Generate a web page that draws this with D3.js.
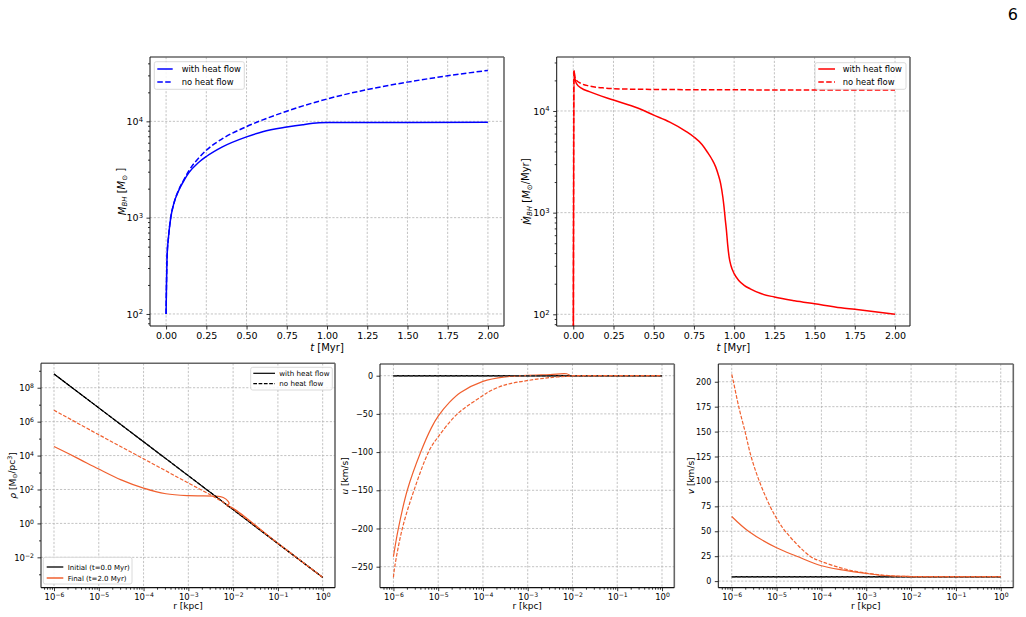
<!DOCTYPE html>
<html><head><meta charset="utf-8">
<script src="https://cdn.jsdelivr.net/npm/d3@7"></script>
<style>body{margin:0;background:#fff}svg{display:block}text{font-family:"DejaVu Sans",sans-serif}</style>
</head><body><svg id="c" width="1026" height="617"></svg>
<script>
// ---------------- DATA ----------------
// Black hole mass vs time [Myr]
const massT_heat   = [0,0.002,0.006,0.015,0.029,0.048,0.075,0.116,0.143,0.2,0.25,0.35,0.5,0.6,0.75,0.85,0.95,1.0,1.5,2.0];
const mass_heat    = [100,180,390,630,1000,1400,1862,2512,2951,3715,4315,5433,6900,7800,8710,9230,9640,9720,9750,9760];
const massT_noheat = [0,0.002,0.006,0.015,0.029,0.048,0.075,0.116,0.143,0.2,0.25,0.35,0.5,0.75,1.0,1.25,1.5,1.75,2.0];
const mass_noheat  = [100,180,390,630,1000,1400,1884,2570,3090,4120,5010,6610,8810,12740,17060,21380,25530,29720,33800];
// Accretion rate [Msun/Myr] vs time
const rateT_heat = [0,0.004,0.01,0.02,0.05,0.1,0.25,0.4,0.5,0.6,0.7,0.75,0.8,0.833,0.86,0.885,0.9,0.916,0.93,0.937,0.945,0.952,0.96,0.969,0.98,1.0,1.03,1.062,1.1,1.166,1.25,1.375,1.5,1.664,1.75,1.875,2.0];
const rate_heat  = [10,25000,20900,18600,16800,15500,12800,10700,9100,7760,6310,5550,4680,3950,3390,2820,2400,1930,1410,1140,850,670,480,363,302,251,214,193,178,160,148,136,127,116,112,106,100];
const rateT_noheat = [0,0.004,0.01,0.02,0.05,0.1,0.2,0.35,0.5,1.0,1.5,2.0];
const rate_noheat  = [10,25000,21500,20000,18600,17600,16800,16400,16300,16150,16100,16100];
// Density profiles rho [Msun/pc^3] vs r [kpc]
const rhoR_init  = [1e-6,1e-4,1e-2,1];
const rho_init   = [6.5e8,6.5e4,6.5,6.6e-4];
const rhoR_heat  = [1e-6,3.16e-6,1e-5,3.16e-5,1e-4,3.16e-4,1e-3,3.63e-3,6.03e-3,7.76e-3,8.13e-3,7.24e-3,1e-2,0.1,1];
const rho_heat   = [3.4e4,7.6e3,1.6e3,370,120,56,43,41,34,20,14.5,11,7.9,0.065,6.6e-4];
const rhoR_noheat = [1e-6,1e-5,1e-4,1e-3,3.16e-3,6.31e-3,1e-2,0.1,1];
const rho_noheat  = [4.7e6,1.7e5,6.5e3,240,47,16.6,7.2,0.068,6.6e-4];
// Radial velocity u [km/s]
const uR_init = [1e-6,1];
const u_init  = [0,0];
const uR_heat = [1e-6,1.29e-6,2.04e-6,4.07e-6,7.08e-6,1e-5,1.78e-5,3.16e-5,1e-4,3.16e-4,1e-3,3.16e-3,7.41e-3,8.91e-3,1e-2,0.1,1];
const u_heat  = [-237,-200,-150,-100,-68,-53,-35,-22,-7.4,-1.5,0.5,1.5,2.5,0.3,0,0,0];
const uR_noheat = [1e-6,1.07e-6,1.58e-6,2.88e-6,6.31e-6,1e-5,2.69e-5,1e-4,1.45e-4,3.16e-4,9.55e-4,3.16e-3,8.91e-3,1e-2,0.1,1];
const u_noheat  = [-264,-250,-200,-150,-98,-80,-50,-26,-20,-12,-6.5,-2.5,-0.5,0,0,0];
// Velocity dispersion v [km/s]
const vR_init = [1e-6,1];
const v_init  = [4.5,4.5];
const vR_heat = [1e-6,2.36e-6,1e-5,2.82e-5,1e-4,3.16e-4,1e-3,3.16e-3,1e-2,0.1,1];
const v_heat  = [64.8,50,33.4,25,15.4,11,7.7,5.2,4.6,4.5,4.5];
const vR_noheat = [1e-6,1.09e-6,1.43e-6,1.98e-6,2.70e-6,4.14e-6,7.16e-6,1e-5,1.63e-5,5.58e-5,1e-4,3.16e-4,1e-3,3.16e-3,1e-2,0.1,1];
const v_noheat  = [207.3,200,175,150,125,100,75,63,49,25,19.7,12.5,8,5.5,4.6,4.5,4.5];
// Tick values
const tTicks = [0,0.25,0.5,0.75,1.0,1.25,1.5,1.75,2.0];
const massTicks = [1e2,1e3,1e4];
const rTicks = [1e-6,1e-5,1e-4,1e-3,1e-2,1e-1,1];
const rhoTicks = [1e-2,1,1e2,1e4,1e6,1e8];
const uTicks = [0,-50,-100,-150,-200,-250];
const vTicks = [0,25,50,75,100,125,150,175,200];

// ---------------- DRAW ----------------
const svg = d3.select('#c');
svg.append('rect').attr('width',1026).attr('height',617).attr('fill','#fff');
const BLUE='#0000ff', RED='#ff0000', ORANGE='#f0602f', BLACK='#000';
const MINUS='\u2212';
let clipN=0;

const fmtFixed2 = v => ({base:d3.format('.2f')(v)});
const fmtInt = v => ({base:(v<0?MINUS:'')+Math.abs(v)});
const fmtLog = v => { const e=Math.round(Math.log10(v)); return {base:'10', sup:(e<0?MINUS+(-e):String(e))}; };

function logMinors(lo,hi){const a=[];for(let k=Math.floor(Math.log10(lo))-1;k<=Math.ceil(Math.log10(hi));k++){for(let m=2;m<=9;m++){const v=m*Math.pow(10,k);if(v>=lo&&v<=hi)a.push(v);}}return a;}

function setLabels(sel, fmt, fs){
  sel.selectAll('.tick text').each(function(d){
    const t=d3.select(this); const f=fmt(d);
    t.text(null).attr('font-size',fs).attr('font-family','"DejaVu Sans",sans-serif').attr('fill','#000');
    t.append('tspan').text(f.base);
    if(f.sup!=null) t.append('tspan').attr('dy','-0.48em').attr('font-size',(fs*0.72)+'px').text(f.sup);
  });
}

function panel(b, x, y, o){
  const g=svg.append('g');
  const id='clip'+(clipN++);
  g.append('clipPath').attr('id',id).append('rect').attr('x',b.L).attr('y',b.T).attr('width',b.R-b.L).attr('height',b.B-b.T);
  const grid=g.append('g');
  o.xTicks.forEach(v=>grid.append('line').attr('x1',x(v)).attr('x2',x(v)).attr('y1',b.T).attr('y2',b.B));
  o.yTicks.forEach(v=>grid.append('line').attr('y1',y(v)).attr('y2',y(v)).attr('x1',b.L).attr('x2',b.R));
  grid.selectAll('line').attr('stroke','#b4b4b4').attr('stroke-width',0.8).attr('stroke-dasharray','2.2,1.6');
  const plot=g.append('g').attr('clip-path',`url(#${id})`);
  const xa=g.append('g').attr('transform',`translate(0,${b.B})`)
    .call(d3.axisBottom(x).tickValues(o.xTicks).tickSize(3.5).tickPadding(3).tickFormat(()=>'' ));
  if(o.xMinor) g.append('g').attr('transform',`translate(0,${b.B})`).call(d3.axisBottom(x).tickValues(o.xMinor).tickSize(2).tickFormat(()=>''));
  const ya=g.append('g').attr('transform',`translate(${b.L},0)`)
    .call(d3.axisLeft(y).tickValues(o.yTicks).tickSize(3.5).tickPadding(3.5).tickFormat(()=>''));
  if(o.yMinor) g.append('g').attr('transform',`translate(${b.L},0)`).call(d3.axisLeft(y).tickValues(o.yMinor).tickSize(2).tickFormat(()=>''));
  g.selectAll('.domain').remove();
  g.selectAll('.tick line').attr('stroke','#000').attr('stroke-width',0.8);
  setLabels(xa,o.xFmt,o.fs); setLabels(ya,o.yFmt,o.yfs||o.fs);
  o.xLabel(g.append('text').attr('x',(b.L+b.R)/2).attr('y',o.xLabY).attr('text-anchor','middle').attr('font-size',o.lfs).attr('fill','#000'));
  o.yLabel(g.append('text').attr('transform',`translate(${o.yLabX},${(b.T+b.B)/2}) rotate(-90)`).attr('text-anchor','middle').attr('font-size',o.lfs).attr('fill','#000'));
  return {g,plot,spines:()=>{
    g.append('line').attr('x1',b.L).attr('x2',b.R).attr('y1',b.T).attr('y2',b.T).attr('stroke','#666').attr('stroke-width',1.6);
    g.append('line').attr('x1',b.R).attr('x2',b.R).attr('y1',b.T).attr('y2',b.B).attr('stroke','#666').attr('stroke-width',1.6);
    g.append('line').attr('x1',b.L).attr('x2',b.L).attr('y1',b.T).attr('y2',b.B).attr('stroke','#111').attr('stroke-width',1);
    g.append('line').attr('x1',b.L).attr('x2',b.R).attr('y1',b.B).attr('y2',b.B).attr('stroke','#111').attr('stroke-width',1.2);
  }};
}

function series(plot,x,y,xs,ys,color,dash,w,curve){
  const line=d3.line().x(d=>x(d[0])).y(d=>y(d[1])).curve(curve||d3.curveMonotoneX);
  plot.append('path').datum(d3.zip(xs,ys)).attr('d',line).attr('fill','none').attr('stroke',color)
    .attr('stroke-width',w).attr('stroke-dasharray',dash?dash:null).attr('stroke-linejoin','round');
}

function legend(g,box,items,o){
  g.append('rect').attr('x',box[0]).attr('y',box[1]).attr('width',box[2]).attr('height',box[3]).attr('rx',2)
    .attr('fill','#fff').attr('fill-opacity',0.85).attr('stroke','#d0d0d0').attr('stroke-width',0.8);
  items.forEach((it,i)=>{
    const yy=o.rows[i];
    g.append('line').attr('x1',o.l0).attr('x2',o.l1).attr('y1',yy).attr('y2',yy).attr('stroke',it.c).attr('stroke-width',it.w).attr('stroke-dasharray',it.d||null);
    g.append('text').attr('x',o.tx).attr('y',yy).attr('dy','0.36em').attr('font-size',o.fs).attr('fill','#000').text(it.t);
  });
}

const sub=(t,s,fs)=>t.append('tspan').attr('dy','0.25em').attr('font-size',(fs*0.7)+'px').text(s);

// ---- Panel 1: M_BH(t)
{
  const b={L:150,R:504,T:57,B:326};
  const x=d3.scaleLinear().domain([-0.1,2.1]).range([b.L,b.R]);
  const y=d3.scaleLog().domain([Math.pow(10,1.875),Math.pow(10,4.668)]).range([b.B,b.T]);
  const p=panel(b,x,y,{xTicks:tTicks,yTicks:massTicks,yMinor:logMinors(y.domain()[0],y.domain()[1]),
    xFmt:fmtFixed2,yFmt:fmtLog,fs:9.5,lfs:10,xLabY:351,yLabX:125.5,
    xLabel:t=>{t.append('tspan').attr('font-style','italic').text('t');t.append('tspan').text(' [Myr]');},
    yLabel:t=>{t.append('tspan').attr('font-style','italic').text('M');sub(t,'BH',10).attr('font-style','italic');
      t.append('tspan').attr('dy','-0.25em').text(' [');t.append('tspan').attr('font-style','italic').text('M');
      sub(t,'\u2299',10);t.append('tspan').attr('dy','-0.25em').text(' ]');}});
  series(p.plot,x,y,massT_heat,mass_heat,BLUE,null,1.5);
  series(p.plot,x,y,massT_noheat,mass_noheat,BLUE,'5.5,2.4',1.5);
  p.spines();
  legend(p.g,[154.3,61.7,90,27.6],[{t:'with heat flow',c:BLUE,w:1.5},{t:'no heat flow',c:BLUE,w:1.5,d:'5.5,2.4'}],
    {rows:[69,82],l0:157.3,l1:172.7,tx:181.7,fs:8.4});
}
// ---- Panel 2: Mdot(t)
{
  const b={L:556.7,R:910,T:57,B:326};
  const x=d3.scaleLinear().domain([-0.103,2.093]).range([b.L,b.R]);
  const y=d3.scaleLog().domain([Math.pow(10,1.885),Math.pow(10,4.531)]).range([b.B,b.T]);
  const p=panel(b,x,y,{xTicks:tTicks,yTicks:massTicks,yMinor:logMinors(y.domain()[0],y.domain()[1]),
    xFmt:fmtFixed2,yFmt:fmtLog,fs:9.5,lfs:10,xLabY:351,yLabX:530.5,
    xLabel:t=>{t.append('tspan').attr('font-style','italic').text('t');t.append('tspan').text(' [Myr]');},
    yLabel:t=>{t.append('tspan').attr('font-style','italic').text('\u1E40');sub(t,'BH',10).attr('font-style','italic');
      t.append('tspan').attr('dy','-0.25em').text(' [');t.append('tspan').attr('font-style','italic').text('M');
      sub(t,'\u2299',10);t.append('tspan').attr('dy','-0.25em').text('/Myr]');}});
  series(p.plot,x,y,rateT_heat,rate_heat,RED,null,1.5);
  series(p.plot,x,y,rateT_noheat,rate_noheat,RED,'5.5,2.4',1.5);
  p.spines();
  legend(p.g,[815,62.7,91,26.6],[{t:'with heat flow',c:RED,w:1.5},{t:'no heat flow',c:RED,w:1.5,d:'5.5,2.4'}],
    {rows:[69,82],l0:818.3,l1:835,tx:842.7,fs:8.4});
}
const rLabel=t=>{t.text('r [kpc]');};
// ---- Panel 3: rho(r)
{
  const b={L:41,R:335,T:363.3,B:587.7};
  const x=d3.scaleLog().domain([Math.pow(10,-6.29),Math.pow(10,0.275)]).range([b.L,b.R]);
  const y=d3.scaleLog().domain([Math.pow(10,-3.79),Math.pow(10,9.44)]).range([b.B,b.T]);
  const p=panel(b,x,y,{xTicks:rTicks,yTicks:rhoTicks,xMinor:logMinors(x.domain()[0],x.domain()[1]),
    yMinor:[1e-3,1e-1,10,1e3,1e5,1e7,1e9],
    xFmt:fmtLog,yFmt:fmtLog,fs:8.5,lfs:9,xLabY:609,yLabX:15.5,xLabel:rLabel,
    yLabel:t=>{t.append('tspan').attr('font-style','italic').text('\u03C1');t.append('tspan').text(' [M');
      sub(t,'\u2299',9);t.append('tspan').attr('dy','-0.25em').text('/pc');
      t.append('tspan').attr('dy','-0.4em').attr('font-size','6.3px').text('3');t.append('tspan').attr('dy','0.4em').text(']');}});
  const cr=d3.curveCatmullRom.alpha(0.5);
  series(p.plot,x,y,rhoR_init,rho_init,BLACK,null,1.2,cr);
  series(p.plot,x,y,rhoR_heat,rho_heat,ORANGE,null,1.2,cr);
  series(p.plot,x,y,rhoR_init,rho_init,BLACK,'3.7,1.6',1.2,cr);
  series(p.plot,x,y,rhoR_noheat,rho_noheat,ORANGE,'3.7,1.6',1.2,cr);
  p.spines();
  legend(p.g,[250.7,367.3,81.6,22.7],[{t:'with heat flow',c:BLACK,w:1.2},{t:'no heat flow',c:BLACK,w:1.2,d:'3.7,1.6'}],
    {rows:[373.3,383.7],l0:253.3,l1:275,tx:279.3,fs:7.1});
  legend(p.g,[43.3,557.3,88.7,26.7],[{t:'Initial (t=0.0 Myr)',c:'#222',w:1.5},{t:'Final (t=2.0 Myr)',c:ORANGE,w:1.5}],
    {rows:[567,578],l0:46.7,l1:63.3,tx:67.7,fs:7});
}
// ---- Panel 4: u(r)
{
  const b={L:380,R:674.3,T:364,B:587.7};
  const x=d3.scaleLog().domain([Math.pow(10,-6.3),Math.pow(10,0.275)]).range([b.L,b.R]);
  const y=d3.scaleLinear().domain([-277.5,15.3]).range([b.B,b.T]);
  const p=panel(b,x,y,{xTicks:rTicks,yTicks:uTicks,xMinor:logMinors(x.domain()[0],x.domain()[1]),
    xFmt:fmtLog,yFmt:fmtInt,fs:8.5,yfs:8,lfs:9,xLabY:609,yLabX:347.5,xLabel:rLabel,
    yLabel:t=>{t.append('tspan').attr('font-style','italic').text('u');t.append('tspan').text(' [km/s]');}});
  const cr=d3.curveCatmullRom.alpha(0.5);
  series(p.plot,x,y,uR_init,u_init,BLACK,null,1.5,cr);
  series(p.plot,x,y,uR_heat,u_heat,ORANGE,null,1.2,cr);
  series(p.plot,x,y,uR_init,u_init,'#333','3.7,1.6',1.5,cr);
  series(p.plot,x,y,uR_noheat,u_noheat,ORANGE,'3.7,1.6',1.2,cr);
  p.spines();
}
// ---- Panel 5: v(r)
{
  const b={L:718.3,R:1013.3,T:364,B:587.7};
  const x=d3.scaleLog().domain([Math.pow(10,-6.3),Math.pow(10,0.28)]).range([b.L,b.R]);
  const y=d3.scaleLinear().domain([-6.6,217.8]).range([b.B,b.T]);
  const p=panel(b,x,y,{xTicks:rTicks,yTicks:vTicks,xMinor:logMinors(x.domain()[0],x.domain()[1]),
    xFmt:fmtLog,yFmt:fmtInt,fs:8.5,yfs:8,lfs:9,xLabY:609,yLabX:693.5,xLabel:rLabel,
    yLabel:t=>{t.append('tspan').attr('font-style','italic').text('v');t.append('tspan').text(' [km/s]');}});
  const cr=d3.curveCatmullRom.alpha(0.5);
  series(p.plot,x,y,vR_init,v_init,BLACK,null,1.5,cr);
  series(p.plot,x,y,vR_heat,v_heat,ORANGE,null,1.2,cr);
  series(p.plot,x,y,vR_init,v_init,'#333','3.7,1.6',1.5,cr);
  series(p.plot,x,y,vR_noheat,v_noheat,ORANGE,'3.7,1.6',1.2,cr);
  p.spines();
}
// page number
svg.append('text').attr('x',1018).attr('y',20).attr('text-anchor','end').attr('font-family','"DejaVu Serif","Liberation Serif",serif').attr('font-size',16).text('6');
</script></body></html>
